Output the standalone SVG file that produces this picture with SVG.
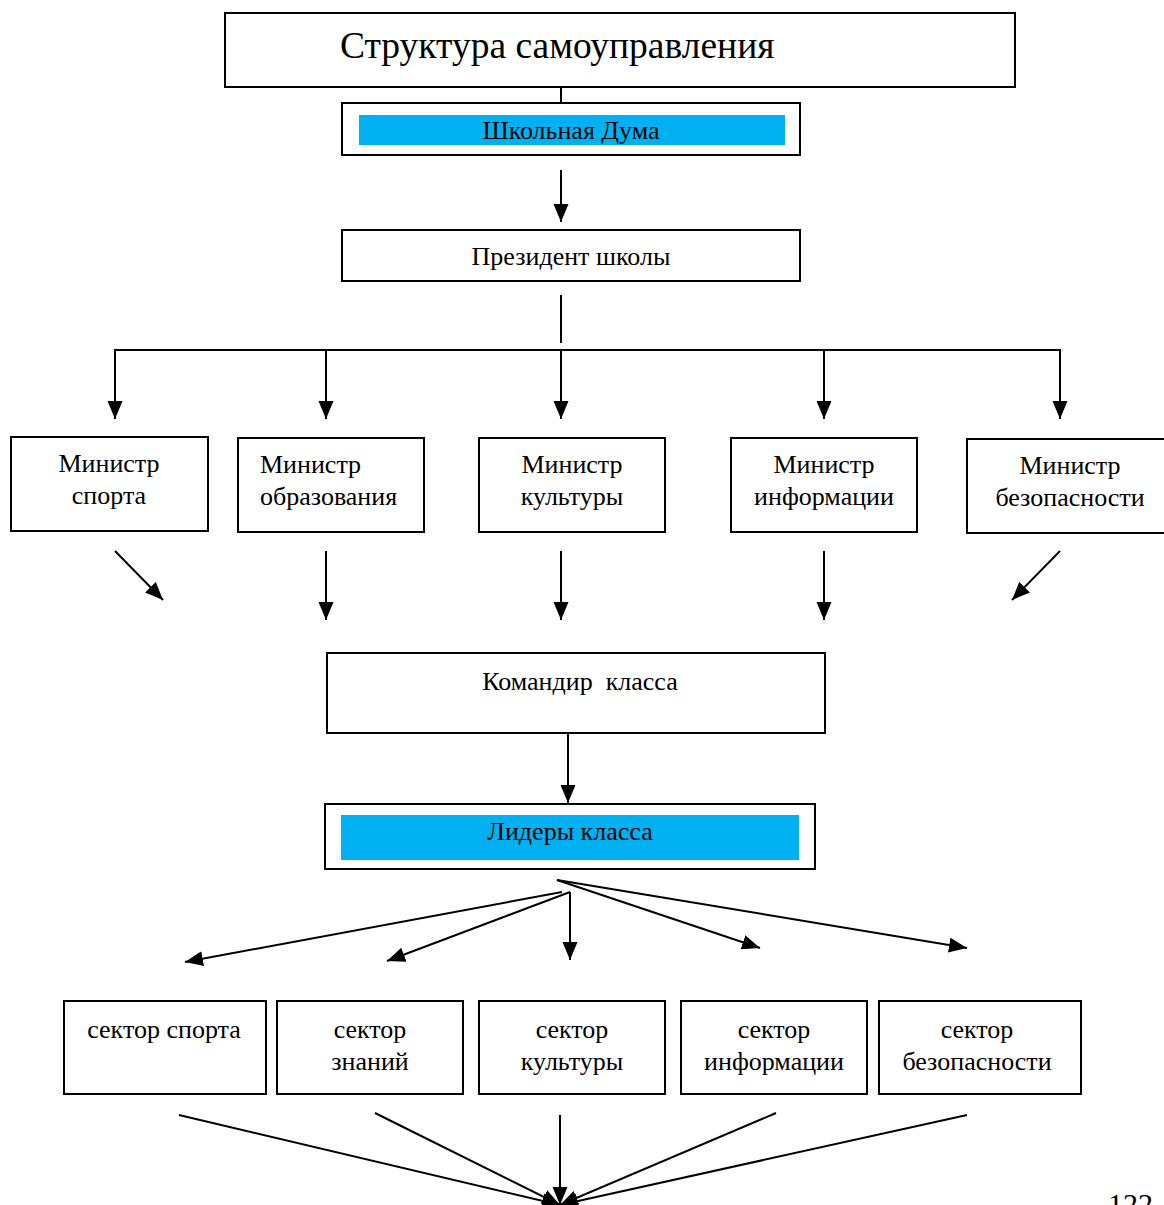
<svg xmlns="http://www.w3.org/2000/svg" width="1164" height="1205" viewBox="0 0 1164 1205">
<style>
.box{fill:#fff;stroke:#000;stroke-width:2}
.fill{fill:#00B0F0;stroke:none}
.t{font-family:"Liberation Serif","Times New Roman",serif;font-size:26px;fill:#000;text-anchor:middle}
.tl{font-family:"Liberation Serif","Times New Roman",serif;font-size:26px;fill:#000}
.ln{stroke:#000;stroke-width:2;fill:none}
.ar{stroke:#000;stroke-width:2;fill:none;marker-end:url(#ah)}
</style>
<defs>
<marker id="ah" markerUnits="userSpaceOnUse" markerWidth="18" markerHeight="16" viewBox="0 0 18 15" refX="18" refY="7.5" orient="auto">
<path d="M0,0 L18,7.5 L0,15 Z" fill="#000"/>
</marker>
</defs>
<rect width="1164" height="1205" fill="#fff"/>
<g id="connectors">
<line class="ln" x1="561" y1="87" x2="561" y2="103"/>
<line class="ar" x1="561" y1="170" x2="561" y2="222"/>
<line class="ln" x1="561" y1="295" x2="561" y2="343"/>
<line class="ln" x1="114" y1="350" x2="1061" y2="350"/>
<line class="ar" x1="115" y1="350" x2="115" y2="419"/>
<line class="ar" x1="326" y1="350" x2="326" y2="419"/>
<line class="ar" x1="561" y1="350" x2="561" y2="419"/>
<line class="ar" x1="824" y1="350" x2="824" y2="419"/>
<line class="ar" x1="1060" y1="350" x2="1060" y2="419"/>
<line class="ar" x1="115" y1="551" x2="163" y2="600"/>
<line class="ar" x1="326" y1="551" x2="326" y2="620"/>
<line class="ar" x1="561" y1="551" x2="561" y2="620"/>
<line class="ar" x1="824" y1="551" x2="824" y2="620"/>
<line class="ar" x1="1060" y1="551" x2="1012" y2="600"/>
<line class="ar" x1="568" y1="733" x2="568" y2="803"/>
<line class="ar" x1="562" y1="892" x2="185" y2="962"/>
<line class="ar" x1="570" y1="892" x2="387" y2="961"/>
<line class="ar" x1="570" y1="892" x2="570" y2="960"/>
<line class="ar" x1="557" y1="880" x2="760" y2="948"/>
<line class="ar" x1="557" y1="880" x2="967" y2="948"/>
<line class="ar" x1="179" y1="1115" x2="560" y2="1205"/>
<line class="ar" x1="375" y1="1113" x2="560" y2="1205"/>
<line class="ar" x1="560" y1="1115" x2="560" y2="1205"/>
<line class="ar" x1="776" y1="1113" x2="560" y2="1205"/>
<line class="ar" x1="967" y1="1115" x2="560" y2="1205"/>
</g>
<g id="title">
<rect class="box" x="225" y="13" width="790" height="74"/>
<text class="tl" x="340" y="58" style="font-size:37.5px">Структура самоуправления</text>
</g>
<g id="duma">
<rect class="box" x="342" y="103" width="458" height="52"/>
<rect class="fill" x="359" y="115" width="426" height="30"/>
<text class="t" x="571" y="139">Школьная Дума</text>
</g>
<g id="president">
<rect class="box" x="342" y="230" width="458" height="51"/>
<text class="t" x="571" y="265">Президент школы</text>
</g>
<g id="min-sport">
<rect class="box" x="11" y="437" width="197" height="94"/>
<text class="t" x="109" y="472">Министр</text>
<text class="t" x="109" y="504">спорта</text>
</g>
<g id="min-edu">
<rect class="box" x="238" y="438" width="186" height="94"/>
<text class="tl" x="260" y="473">Министр</text>
<text class="tl" x="260" y="505">образования</text>
</g>
<g id="min-cult">
<rect class="box" x="479" y="438" width="186" height="94"/>
<text class="t" x="572" y="473">Министр</text>
<text class="t" x="572" y="505">культуры</text>
</g>
<g id="min-info">
<rect class="box" x="731" y="438" width="186" height="94"/>
<text class="t" x="824" y="473">Министр</text>
<text class="t" x="824" y="505">информации</text>
</g>
<g id="min-safe">
<rect class="box" x="967" y="439" width="205" height="94"/>
<text class="t" x="1070" y="474">Министр</text>
<text class="t" x="1070" y="506">безопасности</text>
</g>
<g id="commander">
<rect class="box" x="327" y="653" width="498" height="80"/>
<text class="t" x="580" y="690" xml:space="preserve">Командир  класса</text>
</g>
<g id="leaders">
<rect class="box" x="325" y="804" width="490" height="65"/>
<rect class="fill" x="341" y="815" width="458" height="45"/>
<text class="t" x="570" y="840">Лидеры класса</text>
</g>
<g id="sec-sport">
<rect class="box" x="64" y="1001" width="202" height="93"/>
<text class="t" x="164" y="1038">сектор спорта</text>
</g>
<g id="sec-know">
<rect class="box" x="277" y="1001" width="186" height="93"/>
<text class="t" x="370" y="1038">сектор</text>
<text class="t" x="370" y="1070">знаний</text>
</g>
<g id="sec-cult">
<rect class="box" x="479" y="1001" width="186" height="93"/>
<text class="t" x="572" y="1038">сектор</text>
<text class="t" x="572" y="1070">культуры</text>
</g>
<g id="sec-info">
<rect class="box" x="681" y="1001" width="186" height="93"/>
<text class="t" x="774" y="1038">сектор</text>
<text class="t" x="774" y="1070">информации</text>
</g>
<g id="sec-safe">
<rect class="box" x="879" y="1001" width="202" height="93"/>
<text class="t" x="977" y="1038">сектор</text>
<text class="t" x="977" y="1070">безопасности</text>
</g>
<text class="tl" x="1108" y="1214" style="font-size:30px">122</text>
</svg>
